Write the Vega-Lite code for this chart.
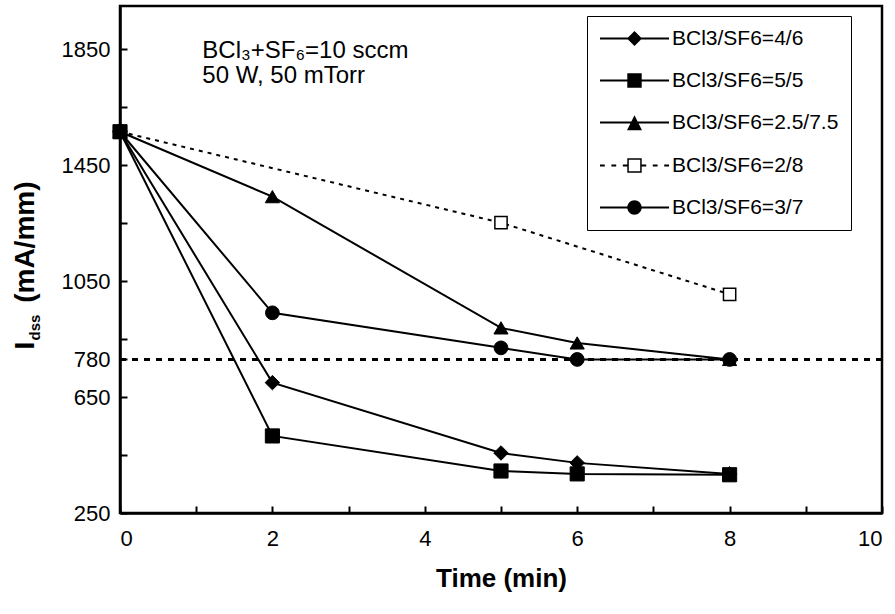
{
  "$schema": "https://vega.github.io/schema/vega-lite/v6.json",
  "width": 762,
  "height": 507,
  "autosize": {"type": "none"},
  "padding": {"left": 120, "top": 6, "right": 13, "bottom": 101},
  "background": "white",
  "config": {
    "view": {"stroke": "black", "strokeWidth": 2.5},
    "axis": {
      "labelFont": "Liberation Sans", "labelFontSize": 22, "labelColor": "black",
      "titleFont": "Liberation Sans", "titleFontSize": 26, "titleFontWeight": "bold", "titleColor": "black",
      "domainColor": "black", "domainWidth": 2.5, "tickColor": "black", "tickWidth": 2, "tickSize": -7, "grid": false
    }
  },
  "resolve": {"axis": {"y": "independent"}},
  "datasets": {
    "series": [
      {"series": "BCl3/SF6=4/6", "t": 0, "v": 1566},
      {"series": "BCl3/SF6=4/6", "t": 2, "v": 700},
      {"series": "BCl3/SF6=4/6", "t": 5, "v": 457},
      {"series": "BCl3/SF6=4/6", "t": 6, "v": 423},
      {"series": "BCl3/SF6=4/6", "t": 8, "v": 385},
      {"series": "BCl3/SF6=2.5/7.5", "t": 0, "v": 1566},
      {"series": "BCl3/SF6=2.5/7.5", "t": 2, "v": 1342},
      {"series": "BCl3/SF6=2.5/7.5", "t": 5, "v": 889},
      {"series": "BCl3/SF6=2.5/7.5", "t": 6, "v": 837},
      {"series": "BCl3/SF6=2.5/7.5", "t": 8, "v": 780},
      {"series": "BCl3/SF6=2/8", "t": 0, "v": 1566},
      {"series": "BCl3/SF6=2/8", "t": 5, "v": 1252},
      {"series": "BCl3/SF6=2/8", "t": 8, "v": 1005},
      {"series": "BCl3/SF6=3/7", "t": 0, "v": 1566},
      {"series": "BCl3/SF6=3/7", "t": 2, "v": 941},
      {"series": "BCl3/SF6=3/7", "t": 5, "v": 820},
      {"series": "BCl3/SF6=3/7", "t": 6, "v": 780},
      {"series": "BCl3/SF6=3/7", "t": 8, "v": 780},
      {"series": "BCl3/SF6=5/5", "t": 0, "v": 1566},
      {"series": "BCl3/SF6=5/5", "t": 2, "v": 516},
      {"series": "BCl3/SF6=5/5", "t": 5, "v": 395},
      {"series": "BCl3/SF6=5/5", "t": 6, "v": 385},
      {"series": "BCl3/SF6=5/5", "t": 8, "v": 382}
    ]
  },
  "layer": [
    {
      "data": {"values": [{"t": 0, "v": 780}]},
      "mark": {"type": "rule", "strokeDash": [6, 6], "strokeWidth": 3, "color": "black"},
      "encoding": {
        "y": {"field": "v", "type": "quantitative",
          "scale": {"domain": [250, 2000], "nice": false, "zero": false},
          "axis": {"orient": "left", "title": "I\u00a0\u00a0\u00a0\u00a0\u00a0(mA/mm)", "titleFontSize": 28, "values": [250,450,650,780,850,1050,1250,1450,1650,1850], "format": "d",
            "labelExpr": "indexof([250,650,780,1050,1450,1850], datum.value) >= 0 ? datum.label : ''",
            "labelPadding": 17, "titleAngle": -90, "titleAlign": "left", "titleBaseline": "alphabetic", "titleX": -87, "titleY": 343}}
      }
    },
    {
      "data": {"name": "series"},
      "transform": [{"filter": "datum.series !== 'BCl3/SF6=2/8'"}],
      "mark": {"type": "line", "color": "black", "strokeWidth": 2},
      "encoding": {
        "x": {"field": "t", "type": "quantitative", "title": "Time (min)",
          "scale": {"domain": [0, 10], "nice": false},
          "axis": {"values": [0,1,2,3,4,5,6,7,8,9,10], "format": "d", "labelExpr": "datum.value % 2 === 0 ? datum.label : ''", "labelPadding": 22, "titlePadding": 16}},
        "y": {"field": "v", "type": "quantitative",
          "axis": {"orient": "left", "title": "dss", "titleFontSize": 15, "domain": false, "ticks": false, "labels": false,
            "titleAngle": -90, "titleAlign": "left", "titleBaseline": "alphabetic", "titleX": -81, "titleY": 334}},
        "detail": {"field": "series", "type": "nominal"}
      }
    },
    {
      "data": {"name": "series"},
      "transform": [{"filter": "datum.series === 'BCl3/SF6=2/8'"}],
      "mark": {"type": "line", "color": "black", "strokeWidth": 2, "strokeDash": [4, 5]},
      "encoding": {
        "x": {"field": "t", "type": "quantitative"},
        "y": {"field": "v", "type": "quantitative", "axis": null}
      }
    },
    {
      "data": {"name": "series"},
      "transform": [{"filter": "datum.series === 'BCl3/SF6=2/8'"}],
      "mark": {"type": "point", "shape": "square", "filled": true, "fill": "white", "opacity": 1, "stroke": "black", "strokeWidth": 1.5, "size": 150},
      "encoding": {
        "x": {"field": "t", "type": "quantitative"},
        "y": {"field": "v", "type": "quantitative", "axis": null}
      }
    },
    {
      "data": {"name": "series"},
      "transform": [{"filter": "datum.series === 'BCl3/SF6=4/6'"}],
      "mark": {"type": "point", "shape": "diamond", "filled": true, "fill": "black", "opacity": 1, "stroke": "black", "strokeWidth": 1, "size": 210},
      "encoding": {
        "x": {"field": "t", "type": "quantitative"},
        "y": {"field": "v", "type": "quantitative", "axis": null}
      }
    },
    {
      "data": {"name": "series"},
      "transform": [{"filter": "datum.series === 'BCl3/SF6=2.5/7.5'"}],
      "mark": {"type": "point", "shape": "triangle-up", "filled": true, "fill": "black", "opacity": 1, "stroke": "black", "strokeWidth": 1, "size": 200},
      "encoding": {
        "x": {"field": "t", "type": "quantitative"},
        "y": {"field": "v", "type": "quantitative", "axis": null}
      }
    },
    {
      "data": {"name": "series"},
      "transform": [{"filter": "datum.series === 'BCl3/SF6=3/7'"}],
      "mark": {"type": "point", "shape": "circle", "filled": true, "fill": "black", "opacity": 1, "stroke": "black", "strokeWidth": 1, "size": 190},
      "encoding": {
        "x": {"field": "t", "type": "quantitative"},
        "y": {"field": "v", "type": "quantitative", "axis": null}
      }
    },
    {
      "data": {"name": "series"},
      "transform": [{"filter": "datum.series === 'BCl3/SF6=5/5'"}],
      "mark": {"type": "point", "shape": "square", "filled": true, "fill": "black", "opacity": 1, "stroke": "black", "strokeWidth": 1, "size": 200},
      "encoding": {
        "x": {"field": "t", "type": "quantitative"},
        "y": {"field": "v", "type": "quantitative", "axis": null}
      }
    },
    {
      "data": {"name": "series"},
      "transform": [{"filter": "false"}],
      "mark": {"type": "point", "filled": true, "color": "black", "opacity": 1, "size": 144},
      "encoding": {
        "x": {"field": "t", "type": "quantitative"},
        "y": {"field": "v", "type": "quantitative", "axis": null},
        "shape": {"field": "series", "type": "nominal",
          "scale": {"domain": ["BCl3/SF6=4/6","BCl3/SF6=5/5","BCl3/SF6=2.5/7.5","BCl3/SF6=2/8","BCl3/SF6=3/7"],
                    "range": [
                      "M-5.75,-0.17H5.75V0.17H-5.75ZM-1.25,0L0,-1.25L1.25,0L0,1.25Z",
                      "M-5.75,-0.17H5.75V0.17H-5.75ZM-1.2,-1.2H1.2V1.2H-1.2Z",
                      "M-5.75,-0.17H5.75V0.17H-5.75ZM0,-1.2L1.25,1.3H-1.25Z",
                      "M-5.75,-0.17H-4.95V0.17H-5.75ZM-3.85,-0.17H-3.05V0.17H-3.85ZM-1.95,-0.17H-1.2V0.17H-1.95ZM1.2,-0.17H1.95V0.17H1.2ZM3.05,-0.17H3.85V0.17H3.05ZM4.95,-0.17H5.75V0.17H4.95ZM-1.2,-1.2H1.2V1.2H-1.2ZM-0.95,-0.95V0.95H0.95V-0.95Z",
                      "M-5.75,-0.17H5.75V0.17H-5.75ZM-1.2,0A1.2,1.2 0 1,1 1.2,0A1.2,1.2 0 1,1 -1.2,0Z"
                    ]},
          "legend": {
            "title": null, "orient": "none", "legendX": 467, "legendY": 10,
            "strokeColor": "black", "fillColor": "white", "padding": 12,
            "labelFont": "Liberation Sans", "labelFontSize": 21, "labelColor": "black", "labelLimit": 400,
            "symbolSize": 144, "rowPadding": 20, "symbolOffset": 25, "labelOffset": 27, "symbolOpacity": 1,
            "symbolFillColor": "black"
          }}
      }
    },
    {
      "data": {"values": [{"label": "BCl₃+SF₆=10 sccm"}]},
      "mark": {"type": "text", "align": "left", "baseline": "alphabetic", "font": "Liberation Sans", "fontSize": 24, "color": "black"},
      "encoding": {
        "x": {"datum": 1.08, "type": "quantitative"},
        "y": {"datum": 1819, "type": "quantitative", "axis": null},
        "text": {"field": "label"}
      }
    },
    {
      "data": {"values": [{"label": "50 W, 50 mTorr"}]},
      "mark": {"type": "text", "align": "left", "baseline": "alphabetic", "font": "Liberation Sans", "fontSize": 24, "color": "black"},
      "encoding": {
        "x": {"datum": 1.08, "type": "quantitative"},
        "y": {"datum": 1734, "type": "quantitative", "axis": null},
        "text": {"field": "label"}
      }
    }
  ]
}
